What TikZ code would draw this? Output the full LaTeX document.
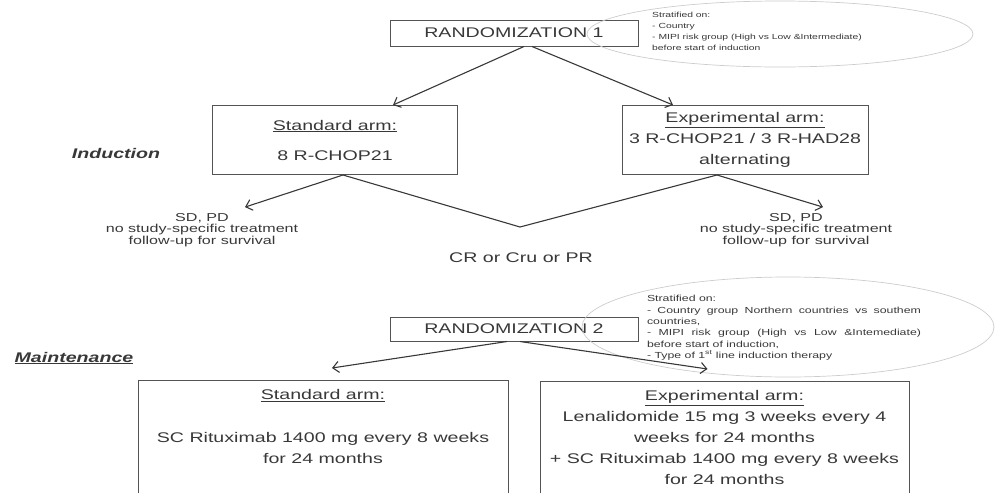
\documentclass[tikz,border=0pt]{standalone}
\usepackage{fontspec}
\setmainfont[FakeStretch=1.4]{Liberation Sans}
\usepackage{tikz}
\usetikzlibrary{arrows.meta,positioning,shapes}
\definecolor{inkgray}{rgb}{0.22,0.22,0.22}
\definecolor{framegray}{rgb}{0.33,0.33,0.33}
\definecolor{ovalgray}{rgb}{0.80,0.80,0.80}

\begin{document}
\begin{tikzpicture}[x=1pt,y=-1pt,>={Straight Barb[length=6pt,width=11pt]},
  rbox/.style={draw=framegray,line width=1pt,minimum width=248pt,minimum height=26pt,text=inkgray,font=\fontsize{14}{21}\selectfont},
  armbox/.style={draw=framegray,line width=1pt,align=center,text=inkgray,font=\fontsize{14}{21}\selectfont},
  oval/.style={ellipse,draw=ovalgray,line width=0.7pt},
  strat/.style={text=inkgray,font=\fontsize{7.4}{11}\selectfont,inner sep=0pt},
  resp/.style={text=inkgray,align=center,font=\fontsize{11.5}{11.5}\selectfont,inner sep=1pt},
  phase/.style={text=inkgray,font=\fontsize{14}{21}\selectfont\bfseries\itshape},
  flow/.style={->,line width=1.1pt,draw=inkgray}]
\useasboundingbox (0,0) rectangle (1005,493);
\clip (0,0) rectangle (1005,493);

\node[rbox] (rand1) at (514,33) {RANDOMIZATION 1};
\node[oval,minimum width=386pt,minimum height=66pt] (oval1) at (780,34) {};
\node[strat,align=left] (strat1) at (757,31) {Stratified on:\\- Country\\- MIPI risk group (High vs Low \&Intermediate)\\before start of induction};

\node[armbox,minimum width=245pt,minimum height=69pt] (std1) at (335,140) {\underline{Standard arm:}\\[9pt]8 R-CHOP21};
\node[armbox,minimum width=246pt,minimum height=69pt] (exp1) at (745,140) {\underline{Experimental arm:}\\3 R-CHOP21 / 3 R-HAD28\\alternating};
\node[phase] (induc) at (116,153) {Induction};

\node[resp] (sdl) at (202,230) {SD, PD\\no study-specific treatment\\follow-up for survival};
\node[resp] (sdr) at (796,230) {SD, PD\\no study-specific treatment\\follow-up for survival};
\coordinate (vee) at (520,227);
\node[text=inkgray,font=\fontsize{14}{21}\selectfont] (cr) at (521,258) {CR or Cru or PR};

\node[rbox,minimum height=24pt] (rand2) at (514,329) {RANDOMIZATION 2};
\node[oval,minimum width=412pt,minimum height=100pt] (oval2) at (788,327) {};
\node[strat,font=\fontsize{8.8}{11.4}\selectfont,text width=274pt,align=justify] (strat2) at (784,328) {Stratified on:\\- Country group Northern countries vs southem\linebreak countries,\\- MIPI risk group (High vs Low \&Intemediate)\linebreak before start of induction,\\- Type of 1\textsuperscript{st} line induction therapy};
\node[phase] (maint) at (74,358) {\underline{Maintenance}};

\node[armbox,minimum width=370pt,anchor=north,inner ysep=9pt,text depth=110pt] (std2) at (323,380) {\underline{Standard arm:}\\[22pt]SC Rituximab 1400 mg every 8 weeks\\for 24 months};
\node[armbox,minimum width=369pt,anchor=north,inner ysep=9pt,text depth=110pt] (exp2) at (724.5,381) {\underline{Experimental arm:}\\Lenalidomide 15 mg 3 weeks every 4\\weeks for 24 months\\+ SC Rituximab 1400 mg every 8 weeks\\for 24 months};

\draw[flow] ([xshift=10pt]rand1.south) -- ([xshift=58pt]std1.north);
\draw[flow] ([xshift=18pt]rand1.south) -- ([xshift=-72pt]exp1.north);
\draw[flow] ([xshift=8pt]std1.south) -- ([xshift=43pt,yshift=5pt]sdl.north);
\draw[line width=1.1pt,draw=inkgray] ([xshift=8pt]std1.south) -- (vee) -- ([xshift=-28pt]exp1.south);
\draw[flow] ([xshift=-28pt]exp1.south) -- ([xshift=27pt,yshift=5pt]sdr.north);
\draw[flow] ([xshift=-7pt]rand2.south) -- ([xshift=9pt,yshift=12pt]std2.north);
\draw[flow] ([xshift=6pt]rand2.south) -- ([xshift=-17pt,yshift=12pt]exp2.north);
\end{tikzpicture}
\end{document}
